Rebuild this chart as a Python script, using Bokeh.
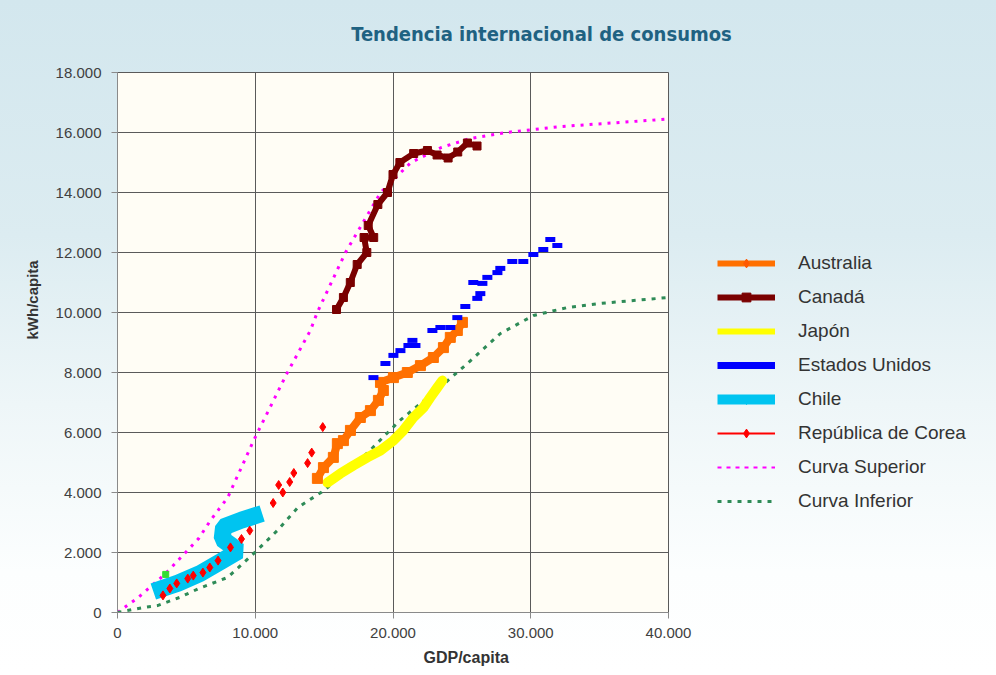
from bokeh.plotting import figure
from bokeh.layouts import column, row
from bokeh.models import FixedTicker, Legend, LegendItem, Title, Label
from bokeh.embed import file_html
from bokeh.resources import INLINE

NAN = float("nan")

# ---------------- data ----------------
x_ticks = [0, 10000, 20000, 30000, 40000]
x_tick_labels = ["0", "10.000", "20.000", "30.000", "40.000"]
y_ticks = [0, 2000, 4000, 6000, 8000, 10000, 12000, 14000, 16000, 18000]
y_tick_labels = ["0", "2.000", "4.000", "6.000", "8.000", "10.000", "12.000", "14.000", "16.000", "18.000"]

sup_x = [0, 1500, 3500, 5900, 6750, 8000, 9900, 12300, 14000, 14500, 16550, 19100, 21300, 23500, 25600, 28200, 32200, 40000]
sup_y = [0, 500, 1300, 2470, 3070, 3830, 5750, 7970, 9400, 10000, 12000, 14000, 15000, 15500, 15800, 16000, 16200, 16450]

inf_x = [0, 1900, 2900, 4500, 5900, 8000, 9900, 11600, 13100, 15000, 18100, 20500, 23400, 25400, 27800, 30200, 32700, 35000, 40000]
inf_y = [0, 170, 230, 500, 800, 1170, 1970, 2730, 3500, 4070, 5300, 6400, 7500, 8300, 9300, 9900, 10170, 10300, 10500]

can_x = [15900, 16400, 16900, 17400, 18100, 17900, 18600, 18200, 18900, 19600, 20000, 20500, 21500, 22500, 23200, 24000, 24700, 25400, 26100]
can_y = [10100, 10500, 11000, 11600, 12000, 12500, 12500, 12900, 13600, 14000, 14600, 15000, 15300, 15400, 15250, 15150, 15350, 15650, 15550]

us_x = [18580, 19450, 20030, 20540, 21120, 21410, 21630, 22860, 23440, 24160, 24670, 25250, 26120, 26340, 25830, 26490, 26850, 27580, 27790, 28660, 29460, 30190, 30910, 31420, 31930]
us_y = [7830, 8300, 8570, 8730, 8900, 9070, 8900, 9400, 9500, 9500, 9830, 10200, 10470, 10630, 11000, 10970, 11170, 11330, 11470, 11700, 11700, 11930, 12100, 12430, 12230]

aus_x = [14510, 14950, 15670, 15960, 16400, 16910, 17630, 18360, 18940, 19300, 19090, 20030, 21040, 21990, 22930, 23660, 24160, 24670, 25040]
aus_y = [4470, 4830, 5170, 5630, 5730, 6070, 6500, 6730, 7070, 7400, 7670, 7830, 8000, 8230, 8500, 8830, 9170, 9400, 9670]

jap_x = [15240, 16180, 17130, 18140, 19090, 20030, 20750, 21480, 22210, 22710, 23220, 23580]
jap_y = [4330, 4630, 4900, 5170, 5400, 5730, 6070, 6500, 6830, 7170, 7500, 7730]

chi_x = [2600, 4400, 6000, 7500, 8800, 7600, 7700, 9000, 10500]
chi_y = [700, 980, 1300, 1700, 2050, 2450, 2850, 3080, 3300]

kor_x = [3300, 3800, 4300, 5100, 5500, 6200, 6700, 7300, 8200, 9000, 9600, 11300, 11700, 12000, 12500, 12800, 13800, 14100, 14900]
kor_y = [570, 800, 970, 1130, 1230, 1330, 1500, 1730, 2170, 2450, 2730, 3650, 4250, 4000, 4350, 4650, 4980, 5330, 6180]

other_x = [3500]
other_y = [1270]

series_labels = ["Australia", "Canadá", "Japón", "Estados Unidos", "Chile",
                 "República de Corea", "Curva Superior", "Curva Inferior"]
title_text = "Tendencia internacional de consumos"

# ---------------- styles ----------------
FONT = "Liberation Sans"
MAG = "#ff00ff"
GRN = "#2e8b57"
ORG = "#ff7000"
CAN = "#7a0000"
YEL = "#ffff00"
BLU = "#0000ff"
CYA = "#00c4f0"
RED = "#ff0000"


def blank(fig):
    fig.border_fill_color = None
    fig.background_fill_color = None
    fig.outline_line_color = None
    fig.grid.visible = False


# ---------------- title strip ----------------
pt = figure(width=996, height=58, x_range=(0, 1), y_range=(0, 1),
            output_backend="svg", toolbar_location=None,
            x_axis_location=None, y_axis_location=None, min_border=0)
blank(pt)
pt.add_layout(Label(x=0.5432, y=0.431, text=title_text,
                    text_font="'Liberation Sans Narrow', 'DejaVu Sans Condensed', sans-serif",
                    text_font_size="20px", text_font_style="bold",
                    text_color="#1f6282", text_align="center", text_baseline="middle"))

# ---------------- main chart ----------------
p = figure(width=698, height=615, x_range=(0, 40000), y_range=(0, 18000),
           output_backend="svg", toolbar_location=None,
           min_border_left=117, min_border_right=30,
           min_border_top=14, min_border_bottom=61)
p.border_fill_color = None
p.background_fill_color = "#fffdf5"
p.outline_line_color = "#5a5a5a"

for ax, ticks, labels in ((p.xaxis, x_ticks, x_tick_labels), (p.yaxis, y_ticks, y_tick_labels)):
    ax.ticker = FixedTicker(ticks=ticks, minor_ticks=[])
    ax.major_label_overrides = {t: l for t, l in zip(ticks, labels)}
    ax.major_label_text_font = FONT
    ax.major_label_text_font_size = "15px"
    ax.major_label_text_color = "#404040"
    ax.axis_line_color = "#8a8a8a"
    ax.major_tick_line_color = "#8a8a8a"
    ax.major_tick_out = 6
    ax.major_tick_in = 0
    ax.minor_tick_line_color = None
p.xaxis.major_label_standoff = 9
p.yaxis.major_label_standoff = 10

p.xgrid.ticker = FixedTicker(ticks=x_ticks)
p.ygrid.ticker = FixedTicker(ticks=y_ticks)
for g in (p.xgrid, p.ygrid):
    g.grid_line_color = "#5a5a5a"
    g.grid_line_width = 1

p.line(sup_x, sup_y, line_color=MAG, line_width=3, line_dash="3 6")
p.line(inf_x, inf_y, line_color=GRN, line_width=3, line_dash="4 6")

p.line(chi_x, chi_y, line_color=CYA, line_width=17, line_join="bevel")
p.line(jap_x, jap_y, line_color=YEL, line_width=10, line_join="round", line_cap="round")
p.line(aus_x, aus_y, line_color=ORG, line_width=8)
p.scatter(aus_x, aus_y, marker="square", size=10, fill_color=ORG, line_color=ORG)
p.line(can_x, can_y, line_color=CAN, line_width=6)
p.scatter(can_x, can_y, marker="square", size=8, fill_color=CAN, line_color=CAN)
p.scatter(us_x, us_y, marker="dash", size=10, line_color=BLU, line_width=5)
p.scatter(kor_x, kor_y, marker="diamond", size=9, fill_color=RED, line_color=RED)
p.scatter(other_x, other_y, marker="square", size=6, fill_color="#33dd33", line_color="#33dd33")

p.add_layout(Title(text="GDP/capita", text_font=FONT, text_font_size="16px",
                   text_font_style="bold", text_color="#333333",
                   align="left", offset=306, standoff=12), "below")
p.add_layout(Title(text="kWh/capita", text_font=FONT, text_font_size="15px",
                   text_font_style="bold", text_color="#333333",
                   align="left", offset=273, standoff=24), "left")

# ---------------- legend strip ----------------
pl = figure(width=298, height=615, x_range=(0, 1), y_range=(0, 1),
            output_backend="svg", toolbar_location=None,
            x_axis_location=None, y_axis_location=None, min_border=0)
blank(pl)


def dl(**kw):
    return pl.line([NAN], [NAN], **kw)


def ds(**kw):
    return pl.scatter([NAN], [NAN], **kw)


items = [
    LegendItem(label=series_labels[0], renderers=[dl(line_color=ORG, line_width=6),
                                                   ds(marker="diamond", size=8, fill_color="#ff5a00", line_color="#ff5a00")]),
    LegendItem(label=series_labels[1], renderers=[dl(line_color=CAN, line_width=6),
                                                   ds(marker="square", size=9, fill_color=CAN, line_color=CAN)]),
    LegendItem(label=series_labels[2], renderers=[dl(line_color=YEL, line_width=6)]),
    LegendItem(label=series_labels[3], renderers=[dl(line_color=BLU, line_width=7)]),
    LegendItem(label=series_labels[4], renderers=[dl(line_color=CYA, line_width=10),
                                                   ds(marker="inverted_triangle", size=9, fill_color=CYA, line_color=CYA)]),
    LegendItem(label=series_labels[5], renderers=[dl(line_color=RED, line_width=2),
                                                   ds(marker="diamond", size=8, fill_color=RED, line_color=RED)]),
    LegendItem(label=series_labels[6], renderers=[dl(line_color=MAG, line_width=2, line_dash="4 5")]),
    LegendItem(label=series_labels[7], renderers=[dl(line_color=GRN, line_width=3, line_dash="4 6")]),
]
legend = Legend(items=items, location=(19, 100), orientation="vertical",
                label_text_font=FONT, label_text_font_size="19px", label_text_color="#333333",
                label_height=22, glyph_height=22, glyph_width=58, label_standoff=23,
                spacing=12, padding=0, margin=0,
                border_line_alpha=0, background_fill_alpha=0)
pl.add_layout(legend, "center")

layout = column(pt, row(p, pl))
layout.styles = {"background": "linear-gradient(180deg, #d3e7ee 0%, #dcecf1 35%, #eef6f8 60%, #fcfefe 85%, #ffffff 100%)"}

open("out.html", "w").write(file_html(layout, INLINE))
